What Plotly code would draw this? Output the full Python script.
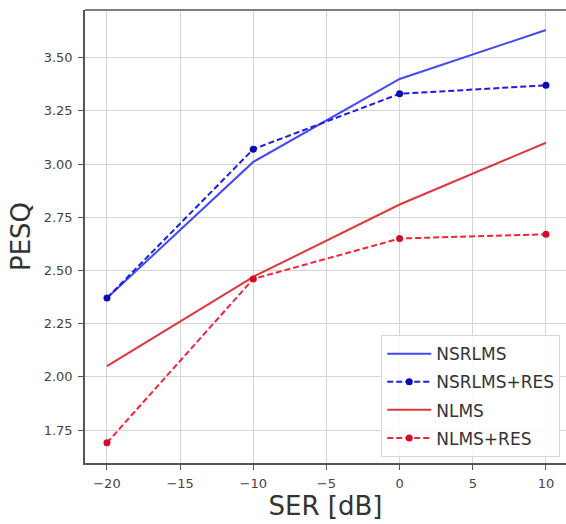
import plotly.graph_objects as go

ser = [-20, -10, 0, 10]
nsrlms = [2.37, 3.01, 3.40, 3.63]
nsrlms_res = [2.37, 3.07, 3.33, 3.37]
nlms = [2.05, 2.47, 2.81, 3.10]
nlms_res = [1.69, 2.46, 2.65, 2.67]

x_ticks = [-20, -15, -10, -5, 0, 5, 10]
x_labels = ["\u221220", "\u221215", "\u221210", "\u22125", "0", "5", "10"]
y_ticks = [1.75, 2.00, 2.25, 2.50, 2.75, 3.00, 3.25, 3.50]

fig = go.Figure()
fig.add_trace(go.Scatter(x=ser, y=nsrlms, name="NSRLMS", mode="lines",
                         line=dict(color="rgb(70,70,250)", width=2),
                         legendgroup="a"))
fig.add_trace(go.Scatter(x=ser, y=nsrlms_res, name="NSRLMS+RES", mode="lines+markers",
                         line=dict(color="rgb(30,30,225)", width=2, dash="6px,3px"),
                         marker=dict(size=7, color="rgb(10,10,180)"),
                         legendgroup="b"))
fig.add_trace(go.Scatter(x=ser, y=nlms, name="NLMS", mode="lines",
                         line=dict(color="rgb(225,55,60)", width=2),
                         legendgroup="c"))
fig.add_trace(go.Scatter(x=ser, y=nlms_res, name="NLMS+RES", mode="lines+markers",
                         line=dict(color="rgb(245,35,55)", width=2, dash="6px,3px"),
                         marker=dict(size=7, color="rgb(215,10,40)"),
                         legendgroup="d"))

tickfont = dict(family="DejaVu Sans", size=13, color="#444")
titlefont = dict(size=26, family="DejaVu Sans", color="#333")
fig.update_layout(
    width=566, height=524,
    margin=dict(l=85, r=0, t=10, b=61),
    plot_bgcolor="white", paper_bgcolor="white",
    font=dict(family="DejaVu Sans", color="#333"),
    xaxis=dict(range=[-21.5, 11.37], tickvals=x_ticks, ticktext=x_labels,
               showgrid=True, gridcolor="#d4d4d4", gridwidth=1,
               showline=True, linecolor="#555", linewidth=1.5, mirror=False,
               ticks="outside", ticklen=5, tickcolor="#555", tickfont=tickfont,
               ticklabelstandoff=3, zeroline=False,
               title=dict(text="SER [dB]", font=titlefont, standoff=5)),
    yaxis=dict(range=[1.595, 3.724], tickvals=y_ticks, tickformat=".2f",
               showgrid=True, gridcolor="#d4d4d4", gridwidth=1,
               showline=True, linecolor="#555", linewidth=1.5, mirror=False,
               ticks="outside", ticklen=5, tickcolor="#555", tickfont=tickfont,
               ticklabelstandoff=3, zeroline=False,
               title=dict(text="PESQ", font=titlefont, standoff=6)),
    legend=dict(x=0.988, y=0.013, xanchor="right", yanchor="bottom",
                bgcolor="rgba(255,255,255,0.85)", bordercolor="#d8d8d8", borderwidth=1,
                font=dict(size=17, family="DejaVu Sans", color="#333"),
                traceorder="grouped", tracegroupgap=3, itemwidth=44),
    shapes=[dict(type="line", xref="paper", yref="paper", x0=0, x1=1, y0=1, y1=1,
                 line=dict(color="#555", width=1.5))],
    showlegend=True,
)

fig.write_html("out.html")
